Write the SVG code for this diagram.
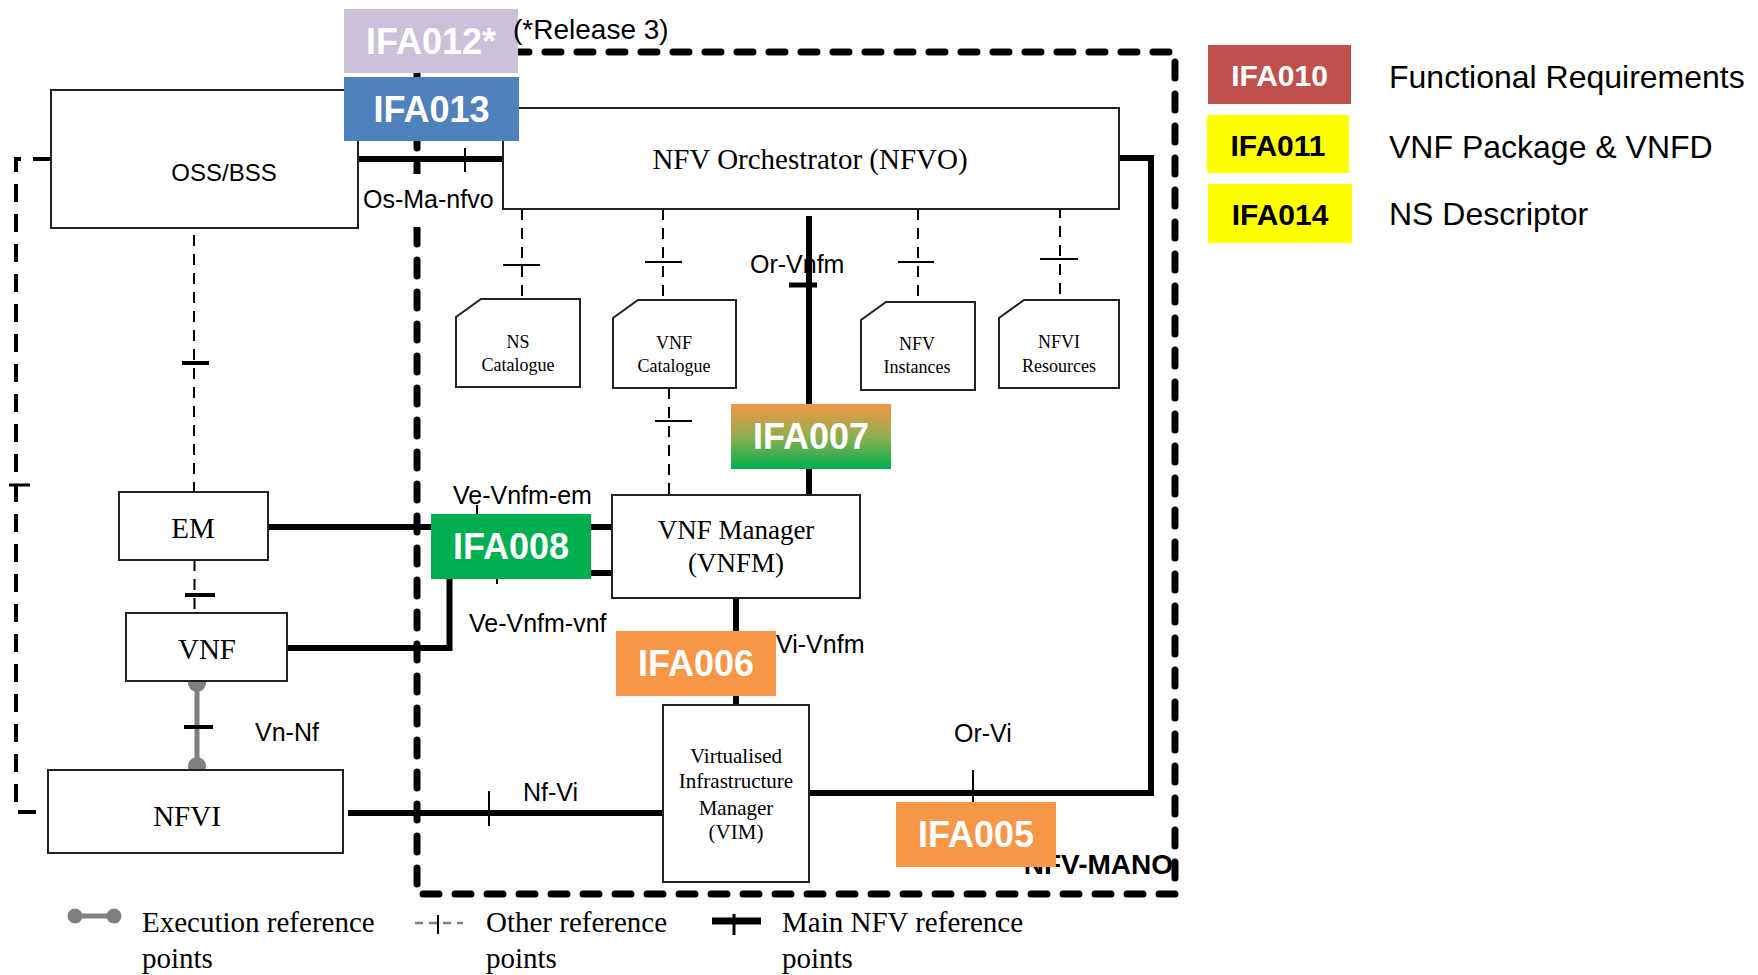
<svg xmlns="http://www.w3.org/2000/svg" width="1758" height="975" viewBox="0 0 1758 975">
<style>
.box{fill:#fff;stroke:#222;stroke-width:2}
.serif{font-family:"Liberation Serif","Times New Roman",serif;fill:#000}
.sans{font-family:"Liberation Sans",Arial,sans-serif;fill:#000}
.ifa{font-family:"Liberation Sans",Arial,sans-serif;font-weight:bold;font-size:36px;fill:#fff;text-anchor:middle}
.leg{font-family:"Liberation Sans",Arial,sans-serif;font-weight:bold;font-size:30px;text-anchor:middle}
.main{fill:none;stroke:#000;stroke-width:6}
.thin{fill:none;stroke:#000;stroke-width:2}
.tick{fill:none;stroke:#000;stroke-width:4}
.dash{fill:none;stroke:#000;stroke-width:2;stroke-dasharray:11 8}
.lbl{font-family:"Liberation Sans",Arial,sans-serif;font-size:25px;fill:#000}
</style>
<defs>
<linearGradient id="g007" x1="0" y1="0" x2="0" y2="1">
<stop offset="0" stop-color="#F79646"/>
<stop offset="0.5" stop-color="#8FAE4E"/>
<stop offset="1" stop-color="#00B050"/>
</linearGradient>
</defs>
<rect width="1758" height="975" fill="#fff"/>

<g id="mano-boundary">
<rect x="417" y="52" width="758" height="842" fill="none" stroke="#000" stroke-width="7" stroke-dasharray="16 16" stroke-linecap="round"/>
<text x="1173" y="874" text-anchor="end" font-family="Liberation Sans,Arial,sans-serif" font-weight="bold" font-size="28">NFV-MANO</text>
</g>

<g id="connectors">
<path class="main" d="M359,159 H503"/>
<path class="thin" d="M465,148 V172"/>
<path class="main" d="M809,216 V495"/>
<path d="M789,285 H817" stroke="#000" stroke-width="5"/>
<path class="main" d="M268,527 H612"/>
<path class="thin" d="M477,505 V549"/>
<path class="main" d="M287,648 H449.5 V573 H612"/>
<path class="thin" d="M497,562 V584"/>
<path class="main" d="M736,598 V705"/>
<path class="main" d="M348,813 H663"/>
<path class="thin" d="M489,791 V826"/>
<path class="main" d="M1119,158 H1151 V793 H809"/>
<path class="thin" d="M973,770 V815"/>
<path class="dash" d="M194,235 V492"/>
<path class="tick" d="M182,363 H209"/>
<path class="dash" d="M194.5,560 V613"/>
<path class="tick" d="M185,595 H215"/>
<path d="M51,159 H16 V812 H47" fill="none" stroke="#000" stroke-width="4" stroke-dasharray="18 12"/>
<path d="M9,485 H30" stroke="#000" stroke-width="3"/>
<path class="dash" d="M522,209 V299"/>
<path class="thin" d="M503,265 H540"/>
<path class="dash" d="M663,209 V300"/>
<path class="thin" d="M645,262 H682"/>
<path class="dash" d="M918,209 V302"/>
<path class="thin" d="M898,262 H934"/>
<path class="dash" d="M1060,207 V300"/>
<path class="thin" d="M1040,259 H1078"/>
<path class="dash" d="M669,388 V495"/>
<path class="thin" d="M655,421 H692"/>
<path d="M197,683 V766" stroke="#808080" stroke-width="5"/>
<circle cx="197" cy="683" r="9" fill="#808080"/>
<circle cx="197" cy="766" r="9" fill="#808080"/>
<path class="tick" d="M184,727 H213"/>
</g>

<g id="connector-labels">
<rect x="360" y="174" width="142" height="53" fill="#fff"/>
<text class="lbl" x="363" y="208">Os-Ma-nfvo</text>
<text class="lbl" x="750" y="273">Or-Vnfm</text>
<text class="lbl" x="453" y="504">Ve-Vnfm-em</text>
<text class="lbl" x="469" y="632">Ve-Vnfm-vnf</text>
<text class="lbl" x="776" y="653">Vi-Vnfm</text>
<text class="lbl" x="255" y="741">Vn-Nf</text>
<text class="lbl" x="523" y="801">Nf-Vi</text>
<text class="lbl" x="954" y="742">Or-Vi</text>
</g>

<g id="oss-bss">
<rect class="box" x="51" y="90" width="307" height="138"/>
<text class="sans" x="224" y="181" font-size="24" text-anchor="middle">OSS/BSS</text>
</g>
<g id="nfvo">
<rect class="box" x="503" y="108" width="616" height="101"/>
<text class="serif" x="810" y="169" font-size="29" text-anchor="middle">NFV Orchestrator (NFVO)</text>
</g>
<g id="ns-catalogue">
<path class="box" d="M481,299 H580 V387 H456 V317 Z"/>
<text class="serif" x="518" y="348" font-size="18" text-anchor="middle">NS</text>
<text class="serif" x="518" y="371" font-size="18" text-anchor="middle">Catalogue</text>
</g>
<g id="vnf-catalogue">
<path class="box" d="M638,300 H736 V388 H613 V318 Z"/>
<text class="serif" x="674" y="349" font-size="18" text-anchor="middle">VNF</text>
<text class="serif" x="674" y="372" font-size="18" text-anchor="middle">Catalogue</text>
</g>
<g id="nfv-instances">
<path class="box" d="M886,302 H975 V390 H861 V320 Z"/>
<text class="serif" x="917" y="350" font-size="18" text-anchor="middle">NFV</text>
<text class="serif" x="917" y="373" font-size="18" text-anchor="middle">Instances</text>
</g>
<g id="nfvi-resources">
<path class="box" d="M1024,300 H1119 V388 H999 V318 Z"/>
<text class="serif" x="1059" y="348" font-size="18" text-anchor="middle">NFVI</text>
<text class="serif" x="1059" y="372" font-size="18" text-anchor="middle">Resources</text>
</g>
<g id="em">
<rect class="box" x="119" y="492" width="149" height="68"/>
<text class="serif" x="193" y="538" font-size="29" text-anchor="middle">EM</text>
</g>
<g id="vnf">
<rect class="box" x="126" y="613" width="161" height="68"/>
<text class="serif" x="207" y="659" font-size="29" text-anchor="middle">VNF</text>
</g>
<g id="nfvi">
<rect class="box" x="48" y="770" width="295" height="83"/>
<text class="serif" x="187" y="826" font-size="29" text-anchor="middle">NFVI</text>
</g>
<g id="vnfm">
<rect class="box" x="612" y="495" width="248" height="103"/>
<text class="serif" x="736" y="539" font-size="27" text-anchor="middle">VNF Manager</text>
<text class="serif" x="736" y="572" font-size="27" text-anchor="middle">(VNFM)</text>
</g>
<g id="vim">
<rect class="box" x="663" y="705" width="146" height="177"/>
<text class="serif" x="736" y="763" font-size="21" text-anchor="middle">Virtualised</text>
<text class="serif" x="736" y="788" font-size="21" text-anchor="middle">Infrastructure</text>
<text class="serif" x="736" y="815" font-size="21" text-anchor="middle">Manager</text>
<text class="serif" x="736" y="839" font-size="21" text-anchor="middle">(VIM)</text>
</g>

<g id="ifa012">
<rect x="344" y="9" width="174" height="64" fill="#CCC1DA"/>
<text class="ifa" x="431" y="54">IFA012*</text>
</g>
<text id="release-note" class="sans" x="513" y="39" font-size="28">(*Release 3)</text>
<g id="ifa013">
<rect x="344" y="77" width="175" height="64" fill="#4F81BD"/>
<text class="ifa" x="431.5" y="122">IFA013</text>
</g>
<g id="ifa007">
<rect x="731" y="404" width="160" height="65" fill="url(#g007)"/>
<text class="ifa" x="811" y="449">IFA007</text>
</g>
<g id="ifa008">
<rect x="431" y="514" width="160" height="65" fill="#00B050"/>
<text class="ifa" x="511" y="559">IFA008</text>
</g>
<g id="ifa006">
<rect x="616" y="631" width="160" height="65" fill="#F79646"/>
<text class="ifa" x="696" y="676">IFA006</text>
</g>
<g id="ifa005">
<rect x="896" y="802" width="160" height="65" fill="#F79646"/>
<text class="ifa" x="976" y="847">IFA005</text>
</g>

<g id="legend-ifa">
<rect x="1208" y="45" width="143" height="59" fill="#C0504D"/>
<text class="leg" x="1279.5" y="86" fill="#fff">IFA010</text>
<text class="sans" x="1389" y="88" font-size="32">Functional Requirements</text>
<rect x="1207" y="115" width="142" height="58" fill="#FFFF00"/>
<text class="leg" x="1278" y="156" fill="#000">IFA011</text>
<text class="sans" x="1389" y="158" font-size="32">VNF Package &amp; VNFD</text>
<rect x="1208" y="184" width="144" height="59" fill="#FFFF00"/>
<text class="leg" x="1280" y="225" fill="#000">IFA014</text>
<text class="sans" x="1389" y="225" font-size="32">NS Descriptor</text>
</g>

<g id="legend-lines">
<path d="M75,916 H114" stroke="#808080" stroke-width="5"/>
<circle cx="75" cy="916" r="7.5" fill="#808080"/>
<circle cx="114" cy="916" r="7.5" fill="#808080"/>
<text class="serif" x="142" y="932" font-size="29">Execution reference</text>
<text class="serif" x="142" y="968" font-size="29">points</text>
<path d="M415,923 H463" stroke="#808080" stroke-width="2.5" stroke-dasharray="8 6"/>
<path d="M438,915 V934" stroke="#000" stroke-width="2"/>
<text class="serif" x="486" y="932" font-size="29">Other reference</text>
<text class="serif" x="486" y="968" font-size="29">points</text>
<path d="M712,921 H761" stroke="#000" stroke-width="7"/>
<path d="M734,914 V935" stroke="#000" stroke-width="3"/>
<text class="serif" x="782" y="932" font-size="29">Main NFV reference</text>
<text class="serif" x="782" y="968" font-size="29">points</text>
</g>
</svg>
